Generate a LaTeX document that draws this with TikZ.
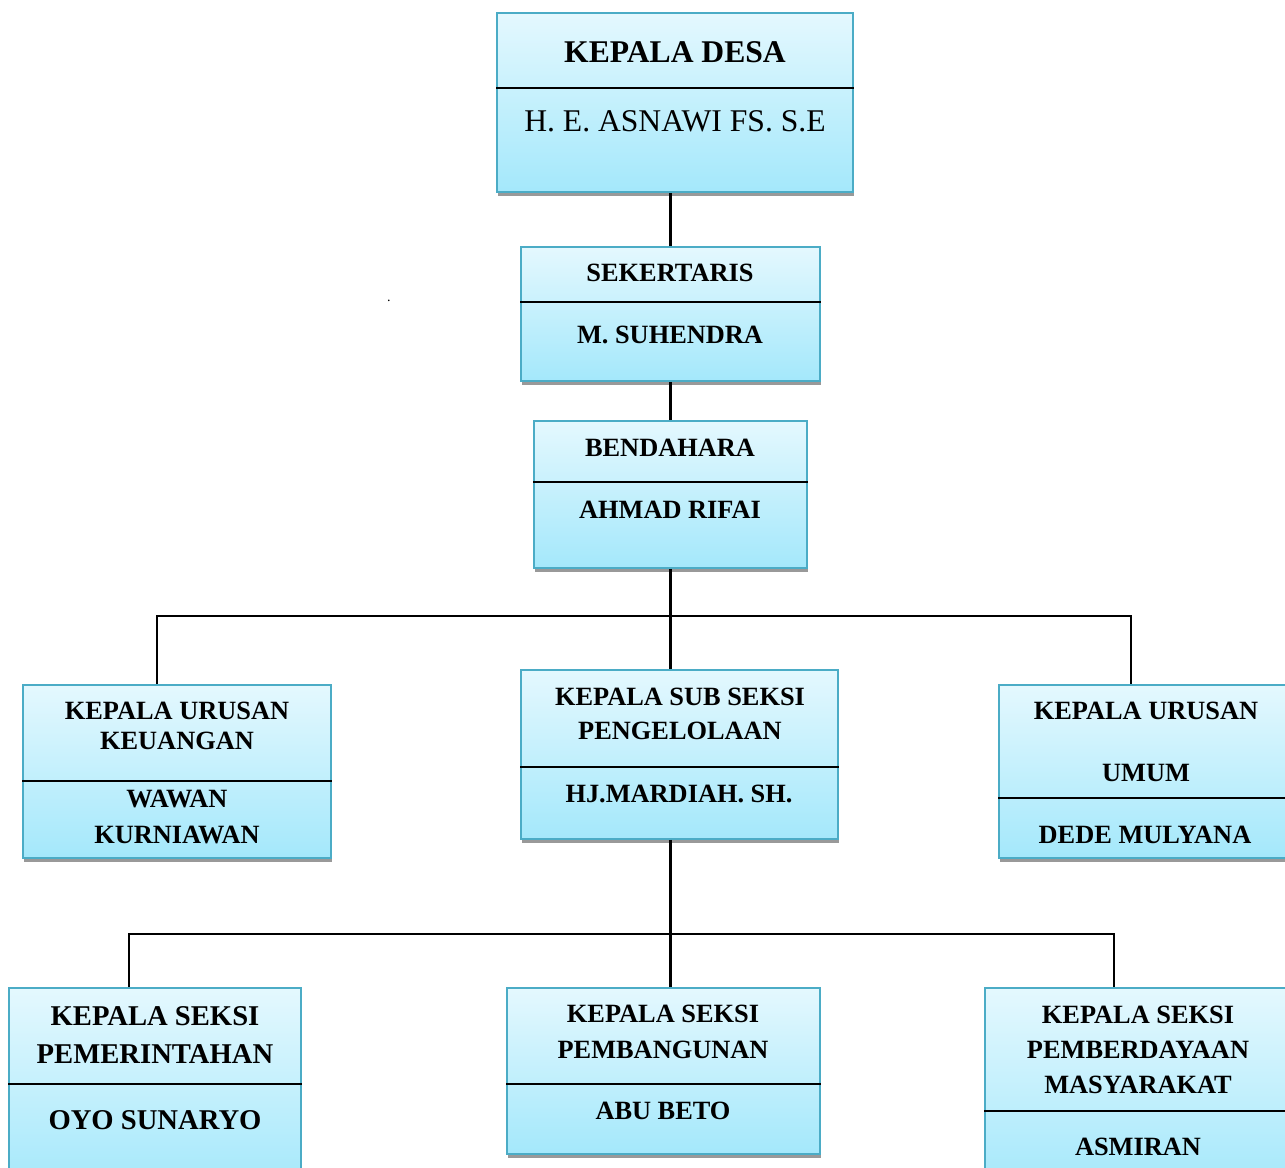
\documentclass[tikz,border=0pt]{standalone}
\usepackage{fontspec}
\setmainfont{Liberation Serif}
\usepackage{tikz}
\usetikzlibrary{fit,shadows}

\definecolor{tepi}{HTML}{4BACC6}
\definecolor{atas}{HTML}{E4F8FE}
\definecolor{bawah}{HTML}{A4E8FB}

\tikzset{
  kotak/.style={draw=tepi,line width=0.9pt,inner sep=0pt,top color=atas,bottom color=bawah,
    drop shadow={shadow xshift=0.4pt,shadow yshift=-2.2pt,fill=black!40,opacity=1}},
  pembatas/.style={line width=1pt},
  garis/.style={line width=1.15pt},
  teks/.style={font=\bfseries\fontsize{15}{19.3}\selectfont,align=center,text depth=0pt,inner sep=0pt}
}

\begin{document}
\begin{tikzpicture}[x=0.02cm,y=-0.02cm]
  \useasboundingbox (0,0) rectangle (1285,1168);

  % kotak-kotak jabatan
  \node[kotak,fit={(497,13) (853,192)}] (kades) {};
  \node[kotak,fit={(521,247) (820,381)}] (sekdes) {};
  \node[kotak,fit={(534,421) (807,568)}] (bendahara) {};
  \node[kotak,fit={(23,685) (331,858)}] (kaurkeu) {};
  \node[kotak,fit={(521,670) (838,839)}] (kasubsi) {};
  \node[kotak,fit={(999,685) (1293,858)}] (kaurum) {};
  \node[kotak,fit={(9,988) (301,1190)}] (kasipem) {};
  \node[kotak,fit={(507,988) (820,1154)}] (kasibang) {};
  \node[kotak,fit={(985,988) (1291,1190)}] (kasipmd) {};

  % garis pembatas
  \draw[pembatas] (kades.west |- 0,88) -- (kades.east |- 0,88);
  \draw[pembatas] (sekdes.west |- 0,302) -- (sekdes.east |- 0,302);
  \draw[pembatas] (bendahara.west |- 0,482) -- (bendahara.east |- 0,482);
  \draw[pembatas] (kaurkeu.west |- 0,781) -- (kaurkeu.east |- 0,781);
  \draw[pembatas] (kasubsi.west |- 0,767) -- (kasubsi.east |- 0,767);
  \draw[pembatas] (kaurum.west |- 0,798) -- (kaurum.east |- 0,798);
  \draw[pembatas] (kasipem.west |- 0,1084) -- (kasipem.east |- 0,1084);
  \draw[pembatas] (kasibang.west |- 0,1084) -- (kasibang.east |- 0,1084);
  \draw[pembatas] (kasipmd.west |- 0,1111) -- (kasipmd.east |- 0,1111);

  % teks
  \node[teks,font=\bfseries\fontsize{18}{22}\selectfont] (t1a) at (675,52) {KEPALA DESA};
  \node[teks,font=\fontsize{18}{22}\selectfont] (t1b) at (675,121) {H. E. ASNAWI FS. S.E};
  \node[teks] (t2a) at (670,273) {SEKERTARIS};
  \node[teks] (t2b) at (670,335) {M. SUHENDRA};
  \node[teks] (t3a) at (670,448) {BENDAHARA};
  \node[teks] (t3b) at (670,510) {AHMAD RIFAI};
  \node[teks,font=\bfseries\fontsize{15}{17}\selectfont] (t4a) at (177,726) {KEPALA URUSAN\\KEUANGAN};
  \node[teks,font=\bfseries\fontsize{15}{20.4}\selectfont] (t4b) at (177,817) {WAWAN\\KURNIAWAN};
  \node[teks] (t5a) at (680,714) {KEPALA SUB SEKSI\\PENGELOLAAN};
  \node[teks] (t5b) at (679,794) {HJ.MARDIAH. SH.};
  \node[teks,font=\bfseries\fontsize{15}{35}\selectfont] (t6a) at (1146,742) {KEPALA URUSAN\\UMUM};
  \node[teks] (t6b) at (1145,835) {DEDE MULYANA};
  \node[teks,font=\bfseries\fontsize{16.3}{21.5}\selectfont] (t7a) at (155,1035) {KEPALA SEKSI\\PEMERINTAHAN};
  \node[teks,font=\bfseries\fontsize{16.3}{21.5}\selectfont] (t7b) at (155,1120) {OYO SUNARYO};
  \node[teks,font=\bfseries\fontsize{15}{20.2}\selectfont] (t8a) at (663,1032) {KEPALA SEKSI\\PEMBANGUNAN};
  \node[teks] (t8b) at (663,1111) {ABU BETO};
  \node[teks,font=\bfseries\fontsize{15}{20}\selectfont] (t9a) at (1138,1049.5) {KEPALA SEKSI\\PEMBERDAYAAN\\MASYARAKAT};
  \node[teks] (t9b) at (1138,1147) {ASMIRAN};
  \node[font=\fontsize{8}{8}\selectfont,inner sep=0pt] (titik) at (389,301) {.};

  % garis hubung
  \coordinate (c1) at (157,616);
  \coordinate (c2) at (1131,616);
  \coordinate (c3) at (129,934);
  \coordinate (c4) at (1114,934);
  \draw[garis] (sekdes.north) -- (sekdes.north |- kades.south);
  \draw[garis] (bendahara.north) -- (bendahara.north |- sekdes.south);
  \draw[garis] (bendahara.south) -- (bendahara.south |- kasubsi.north);
  \draw[garis] (c1 |- kaurkeu.north) -- (c1) -- (c2) -- (c2 |- kaurum.north);
  \draw[garis] (bendahara.south |- kasubsi.south) -- (bendahara.south |- kasibang.north);
  \draw[garis] (c3 |- kasipem.north) -- (c3) -- (c4) -- (c4 |- kasipmd.north);
\end{tikzpicture}
\end{document}
